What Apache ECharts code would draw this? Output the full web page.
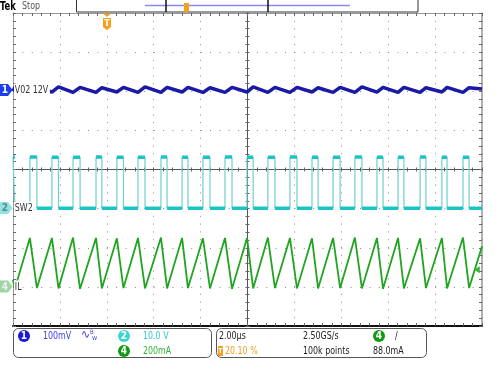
<!DOCTYPE html>
<html><head><meta charset="utf-8">
<script src="https://cdn.jsdelivr.net/npm/echarts@6/dist/echarts.min.js"></script>
<style>html,body{margin:0;padding:0;background:#fff}#c{width:500px;height:375px}</style>
</head><body><div id="c"></div>
<script>
// ---- horizontal scale: µs relative to screen centre, 2 µs/div, 10 divisions
const timeMin = -10, timeMax = 10, timePerDiv = 2;
// ---- SW2 switching edges (µs)
const sw2Fall = [-9.92,-8.98,-8.06,-7.14,-6.21,-5.29,-4.37,-3.43,-2.54,-1.60,-0.66,0.24,1.17,2.11,3.01,3.95,4.88,5.78,6.67,7.61,8.51,9.45];
const sw2Rise = [-9.28,-8.34,-7.44,-6.46,-5.57,-4.67,-3.69,-2.79,-1.90,-0.96,-0.02,0.87,1.81,2.75,3.65,4.58,5.52,6.42,7.36,8.29,9.19];
// SW2 levels (V)
const sw2High = [13.2,13.1,13.1,13.2,13.1,13.1,13.2,13.1,13.1,13.2,13.1,13.1,13.2,13.1,13.1,13.2,13.1,13.1,13.2,13.1,13.1];
const sw2Low = 0.1;
const sw2Start = 13.1;
// IL (mA): valleys at SW2 falling edges, peaks at SW2 rising edges
const ilStart = 36, ilEnd = 207;
const ilValleys = [-8,-6,-8,-10,-8,-6,-8,-8,-6,-8,-10,-8,-6,-8,-8,-6,-8,-10,-8,-6,-8,-6];
const ilPeaks = [250,250,252,250,248,250,252,250,248,250,250,252,250,248,250,252,250,250,248,250,252];
// V02 ripple (mV, AC): peaks at SW2 falling edges, troughs at SW2 rising edges
const v02Start = 0, v02End = 6;
const v02Peaks = [10,10,11,10,9,10,11,10,10,9,10,11,10,10,9,10,11,10,10,9,10,9];
const v02Troughs = [-3,-2,-3,-3,-2,-3,-3,-2,-3,-3,-2,-3,-3,-2,-3,-3,-2,-3,-3,-2,-3];
// channel settings: offset (div) and scale (units/div)
const ch1 = {offset: 2.0, scale: 100};   // mV/div
const ch2 = {offset: -1.0, scale: 10};   // V/div
const ch4 = {offset: -3.0, scale: 200};  // mA/div
const trigLevel = 88; // mA
// status texts
const topTexts = {brand: 'Tek', state: 'Stop'};
const chanLabels = ['V02 12V', 'SW2', 'IL'];

const d1 = v => ch1.offset + v / ch1.scale;
const d2 = v => ch2.offset + v / ch2.scale;
const d4 = v => ch4.offset + v / ch4.scale;

// build polylines from the read edges
const sw2Line = [[timeMin, d2(sw2Start)], [sw2Fall[0], d2(sw2Start)], [sw2Fall[0], d2(sw2Low)]];
const sw2Flat = [[timeMin, d2(sw2Start)], [sw2Fall[0], d2(sw2Start)], [null, null], [sw2Fall[0], d2(sw2Low)]];
for (let i = 0; i < sw2Rise.length; i++) {
  sw2Line.push([sw2Rise[i], d2(sw2Low)], [sw2Rise[i], d2(sw2High[i])], [sw2Fall[i+1], d2(sw2High[i])], [sw2Fall[i+1], d2(sw2Low)]);
  sw2Flat.push([sw2Rise[i], d2(sw2Low)], [null, null], [sw2Rise[i], d2(sw2High[i])], [sw2Fall[i+1], d2(sw2High[i])], [null, null], [sw2Fall[i+1], d2(sw2Low)]);
}
sw2Line.push([timeMax, d2(sw2Low)]);
sw2Flat.push([timeMax, d2(sw2Low)]);

const ilLine = [[timeMin, d4(ilStart)]];
const v02Line = [[timeMin, d1(v02Start)]];
for (let i = 0; i < sw2Fall.length; i++) {
  ilLine.push([sw2Fall[i], d4(ilValleys[i])]);
  v02Line.push([sw2Fall[i], d1(v02Peaks[i])]);
  if (i < sw2Rise.length) {
    ilLine.push([sw2Rise[i], d4(ilPeaks[i])]);
    v02Line.push([sw2Rise[i], d1(v02Troughs[i])]);
  }
}
ilLine.push([timeMax, d4(ilEnd)]);
v02Line.push([timeMax, d1(v02End)]);

const F = '"DejaVu Sans Condensed","Liberation Sans",sans-serif';
const noLbl = {show: false};
function xa(extra) {
  return Object.assign({type: 'value', min: timeMin, max: timeMax, interval: timePerDiv,
    axisLabel: noLbl, splitLine: {show: false}}, extra);
}
function ya(extra) {
  return Object.assign({type: 'value', min: -4, max: 4, interval: 1,
    axisLabel: noLbl, splitLine: {show: false}}, extra);
}
const tickC = '#666';

const chart = echarts.init(document.getElementById('c'), null, {renderer: 'canvas'});
function txt(t, x, y, size, fill, extra, sx) {
  return {type: 'text', z: 100, x: x, y: y, scaleX: sx == null ? 0.8 : sx,
    style: Object.assign({text: t, x: 0, y: 0, font: size + 'px ' + F, fill: fill, verticalAlign: 'middle'}, extra || {})};
}
function circ(cx, cy, fill, n) {
  return [{type: 'circle', z: 100, shape: {cx: cx, cy: cy, r: 6}, style: {fill: fill}},
    txt(n, cx, cy + 0.5, 10, '#fff', {align: 'center', font: 'bold 10px ' + F}, 1)];
}
function marker(y, fill, n, tc) {
  return [{type: 'polygon', z: 100, shape: {points: [[0, y-6],[8, y-6],[12.5, y],[8, y+6],[0, y+6]]}, style: {fill: fill}},
    txt(n, 5, y + 0.5, 10, tc, {align: 'center', font: 'bold 10px ' + F}, 1)];
}

const graphics = [].concat(
  [txt(topTexts.brand, 0, 6.5, 13, '#000', {font: 'bold 13px ' + F}, 0.72),
   txt(topTexts.state, 22, 6.5, 11, '#555'),
   {type: 'rect', z: 100, shape: {x: 76.5, y: -1, width: 341.5, height: 13}, style: {fill: '#fff', stroke: '#333', lineWidth: 1}},
   {type: 'line', z: 101, shape: {x1: 145, y1: 5.5, x2: 350, y2: 5.5}, style: {stroke: '#8a8af5', lineWidth: 1.5}},
   {type: 'line', z: 101, shape: {x1: 166, y1: 0, x2: 166, y2: 12}, style: {stroke: '#111', lineWidth: 1.5}},
   {type: 'line', z: 101, shape: {x1: 268, y1: 0, x2: 268, y2: 12}, style: {stroke: '#111', lineWidth: 1.5}},
   {type: 'polygon', z: 102, shape: {points: [[184,3],[189,3],[189,11],[186.5,13],[184,11]]}, style: {fill: '#f5a020'}},
   txt('T', 186.5, 7.5, 7, '#fff', {align: 'center', font: 'bold 7px ' + F}, 1),
   {type: 'polygon', z: 100, shape: {points: [[103,13.5],[111,13.5],[107,17]]}, style: {fill: '#f5a020'}},
   {type: 'polygon', z: 100, shape: {points: [[103,18],[111,18],[111,27],[107,30],[103,27]]}, style: {fill: '#f5a020'}},
   txt('T', 107, 23.5, 9, '#fff', {align: 'center', font: 'bold 9px ' + F}, 1)],
  marker(90, '#1b3ff0', '1', '#fff'),
  marker(208, '#8fe3e3', '2', '#5a8a8a'),
  marker(286.5, '#9fd59f', '4', '#eef'),
  [txt(chanLabels[0], 14, 90, 11, '#333', {backgroundColor: '#fff', padding: [1, 2, 1, 1]}),
   txt(chanLabels[1], 14, 208, 11, '#333', {backgroundColor: '#fff', padding: [1, 2, 1, 1]}),
   txt(chanLabels[2], 14, 287, 11, '#333', {backgroundColor: '#fff', padding: [1, 1, 1, 1]}),
   {type: 'rect', z: 100, shape: {x: 13.5, y: 328.5, width: 198, height: 29, r: 5}, style: {fill: '#fff', stroke: '#555', lineWidth: 1}},
   {type: 'rect', z: 100, shape: {x: 216.5, y: 328.5, width: 210, height: 29, r: 5}, style: {fill: '#fff', stroke: '#555', lineWidth: 1}}],
  circ(24, 336, '#1a1ad8', '1'),
  [txt('100mV', 43, 336, 11, '#3b3be8'),
   txt('\u223F', 81, 335, 12, '#3b3be8', null, 1),
   txt('B', 90, 332, 6, '#3b3be8', null, 1),
   txt('w', 92, 338, 7, '#3b3be8', null, 1)],
  circ(124, 336, '#3ad4d4', '2'),
  [txt('10.0 V', 143, 336, 11, '#2fcaca')],
  circ(124, 351, '#139a13', '4'),
  [txt('200mA', 143, 351, 11, '#30b430'),
   txt('2.00\u00B5s', 219, 336, 11, '#222'),
   {type: 'rect', z: 100, shape: {x: 218, y: 346, width: 5, height: 10}, style: {fill: '#f5a020'}},
   txt('T', 220.5, 351.5, 7, '#fff', {align: 'center', font: 'bold 7px ' + F}, 1),
   txt('20.10 %', 225, 351, 11, '#f0a020'),
   txt('2.50GS/s', 303, 336, 11, '#222'),
   txt('100k points', 303, 351, 11, '#222')],
  circ(379, 336, '#139a13', '4'),
  [txt('/', 395, 336, 11, '#222'),
   txt('88.0mA', 373, 351, 11, '#222')]
);

chart.setOption({
  animation: false,
  backgroundColor: '#fff',
  grid: {left: 13, top: 13, width: 469, height: 313, show: false},
  xAxis: [
    xa({position: 'bottom', axisLine: {onZero: false, lineStyle: {color: '#111', width: 2}},
      axisTick: {show: true, inside: true, length: 3, lineStyle: {color: tickC}},
      minorTick: {show: true, splitNumber: 5, length: 3, lineStyle: {color: tickC}},
      splitLine: {show: true, lineStyle: {color: '#8a8a8a', width: 1, type: [1, 6.8]}}}),
    xa({position: 'top', axisLine: {onZero: false, lineStyle: {color: '#999', width: 1}},
      axisTick: {show: true, inside: true, length: 3, lineStyle: {color: tickC}},
      minorTick: {show: true, splitNumber: 5, length: 3, lineStyle: {color: tickC}}}),
    xa({position: 'bottom', axisLine: {onZero: true, onZeroAxisIndex: 0, lineStyle: {color: '#555', width: 1}},
      axisTick: {show: true, inside: true, length: 2, lineStyle: {color: tickC}},
      minorTick: {show: true, splitNumber: 5, length: 2, lineStyle: {color: tickC}}}),
    xa({position: 'bottom', axisLine: {show: false, onZero: true, onZeroAxisIndex: 0},
      axisTick: {show: true, inside: false, length: 2, lineStyle: {color: tickC}},
      minorTick: {show: true, splitNumber: 5, length: 2, lineStyle: {color: tickC}}})
  ],
  yAxis: [
    ya({position: 'left', axisLine: {show: true, onZero: false, lineStyle: {color: '#999', width: 1}},
      axisTick: {show: true, inside: true, length: 3, lineStyle: {color: tickC}},
      minorTick: {show: true, splitNumber: 5, length: 3, lineStyle: {color: tickC}},
      splitLine: {show: true, lineStyle: {color: '#8a8a8a', width: 1, type: [1, 8.38]}}}),
    ya({position: 'right', axisLine: {show: true, onZero: false, lineStyle: {color: '#999', width: 1.5}},
      axisTick: {show: true, inside: true, length: 3, lineStyle: {color: tickC}},
      minorTick: {show: true, splitNumber: 5, length: 3, lineStyle: {color: tickC}}}),
    ya({position: 'left', axisLine: {show: true, onZero: true, onZeroAxisIndex: 0, lineStyle: {color: '#555', width: 1}},
      axisTick: {show: true, inside: true, length: 2, lineStyle: {color: tickC}},
      minorTick: {show: true, splitNumber: 5, length: 2, lineStyle: {color: tickC}}}),
    ya({position: 'left', axisLine: {show: false, onZero: true, onZeroAxisIndex: 0},
      axisTick: {show: true, inside: false, length: 2, lineStyle: {color: tickC}},
      minorTick: {show: true, splitNumber: 5, length: 2, lineStyle: {color: tickC}}})
  ],
  series: [
    {type: 'line', name: 'IL', data: ilLine, showSymbol: false, z: 3,
      lineStyle: {color: '#1fa51f', width: 1.8},
      markPoint: {silent: true, symbol: 'triangle', symbolSize: [7, 6], symbolRotate: 90,
        itemStyle: {color: '#3cb43c'}, label: {show: false},
        data: [{coord: [9.78, d4(trigLevel)]}]}},
    {type: 'line', name: 'SW2', data: sw2Line, showSymbol: false, z: 4,
      lineStyle: {color: '#6fcfcf', width: 1.2}},
    {type: 'line', name: 'SW2 level', data: sw2Flat, showSymbol: false, connectNulls: false, z: 5,
      lineStyle: {color: '#1cc3c6', width: 3.5}},
    {type: 'line', name: 'V02', data: v02Line, showSymbol: false, z: 6,
      lineStyle: {color: '#1a1aa6', width: 3.5}}
  ],
  graphic: graphics
});
</script></body></html>
